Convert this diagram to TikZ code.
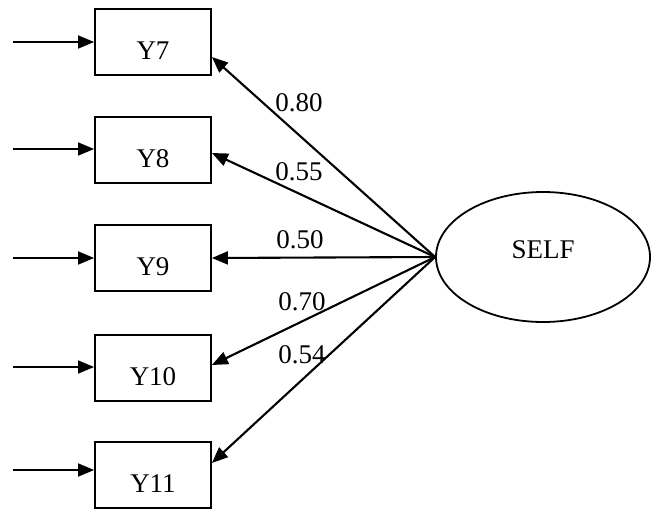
\documentclass[tikz,border=0pt]{standalone}
\usepackage{fontspec}
\setmainfont{Liberation Serif}
\usetikzlibrary{arrows.meta,shapes.geometric,calc}
\tikzset{
  obsBox/.style={draw, line width=1.8pt, minimum width=116pt, minimum height=66pt, inner sep=0pt, text height=35pt, text depth=0pt},
  latVar/.style={draw, ellipse, line width=1.8pt, minimum width=214pt, minimum height=130pt, inner sep=0pt, text height=10pt, text depth=7pt},
  errArrow/.style={-{Triangle[length=16pt,width=13pt]}, line width=1.5pt},
  loadArrow/.style={-{Triangle[length=16pt,width=13pt]}, line width=2.1pt},
  loadLbl/.style={inner sep=0pt},
}

\begin{document}
\begin{tikzpicture}[x=1pt, y=-1pt, every node/.style={font=\fontsize{27}{31}\selectfont}]
  \useasboundingbox (0,0) rectangle (652,509);

  % observed variables
  \node[obsBox] (y7)  at (153,42)  {Y7};
  \node[obsBox] (y8)  at (153,150) {Y8};
  \node[obsBox] (y9)  at (153,258) {Y9};
  \node[obsBox] (y10) at (153,368) {Y10};
  \node[obsBox] (y11) at (153,475) {Y11};

  % latent variable
  \node[latVar] (self) at (543,257) {SELF};

  % error terms
  \coordinate (e7)  at (13,42);
  \coordinate (e8)  at (13,149);
  \coordinate (e9)  at (13,258);
  \coordinate (e10) at (13,367);
  \coordinate (e11) at (13,470);
  \draw[errArrow] (e7)  -- (y7.west);
  \draw[errArrow] (e8)  -- ([yshift=1pt]y8.west);
  \draw[errArrow] (e9)  -- (y9.west);
  \draw[errArrow] (e10) -- ([yshift=1pt]y10.west);
  \draw[errArrow] (e11) -- ([yshift=5pt]y11.west);

  % loadings
  \draw[loadArrow] (self.west) -- ([yshift=-15pt]y7.east);
  \draw[loadArrow] (self.west) -- ([yshift=-3pt]y8.east);
  \draw[loadArrow] (self.west) -- (y9.east);
  \draw[loadArrow] (self.west) -- ([yshift=3pt]y10.east);
  \draw[loadArrow] (self.west) -- ([yshift=12pt]y11.east);

  \node[loadLbl] (l7)  at (299,103) {0.80};
  \node[loadLbl] (l8)  at (299,172) {0.55};
  \node[loadLbl] (l9)  at (300,240) {0.50};
  \node[loadLbl] (l10) at (302,302) {0.70};
  \node[loadLbl] (l11) at (302,355) {0.54};
\end{tikzpicture}
\end{document}
